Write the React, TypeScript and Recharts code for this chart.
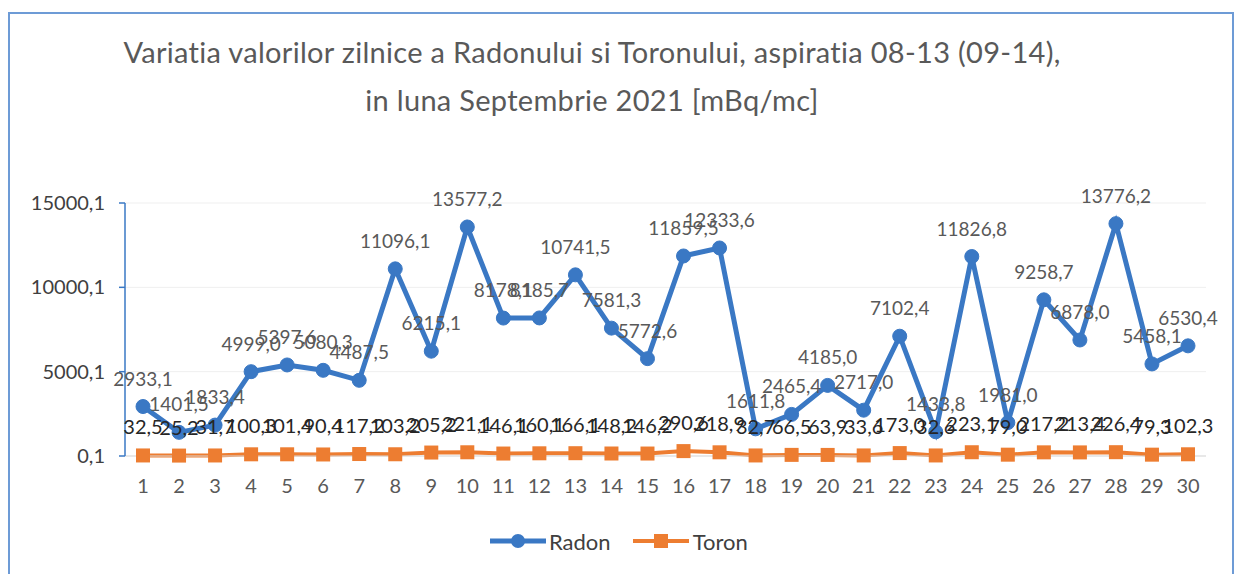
import { LineChart, Line, XAxis, YAxis, CartesianGrid, LabelList } from "recharts";

// zilele lunii (Septembrie 2021)
const days = ["1", "2", "3", "4", "5", "6", "7", "8", "9", "10", "11", "12", "13", "14", "15", "16", "17", "18", "19", "20", "21", "22", "23", "24", "25", "26", "27", "28", "29", "30"];

const radon = [2933.1, 1401.5, 1833.4, 4999.0, 5397.6, 5080.3, 4487.5, 11096.1, 6215.1, 13577.2, 8178.1, 8185.7, 10741.5, 7581.3, 5772.6, 11859.5, 12333.6, 1611.8, 2465.4, 4185.0, 2717.0, 7102.4, 1433.8, 11826.8, 1981.0, 9258.7, 6878.0, 13776.2, 5458.1, 6530.4];

const toron = [32.5, 25.2, 31.7, 100.3, 101.4, 90.4, 117.2, 103.2, 205.2, 221.1, 146.1, 160.1, 166.1, 148.2, 146.2, 290.6, 218.9, 32.7, 66.5, 63.9, 33.6, 173.0, 32.6, 223.1, 79.0, 217.2, 213.4, 226.4, 79.3, 102.3];

const yTicks = [0.1, 5000.1, 10000.1, 15000.1];

const BLUE = "#3a78c4";
const ORANGE = "#ed7d31";
const FONT = "Lato, 'Open Sans', sans-serif";

const fmt = (v: any) => Number(v).toFixed(1).replace(".", ",");

export default function App() {
  const data = days.map((d, i) => ({ day: d, Radon: radon[i], Toron: toron[i] }));

  return (
    <div style={{ position: "absolute", left: 0, top: 0, width: 1237, height: 574, background: "#fff", fontFamily: FONT, overflow: "hidden" }}>
      {/* chenarul graficului */}
      <div style={{ position: "absolute", left: 8, top: 12, width: 1222, height: 600, border: "2px solid #6d9bd6" }} />

      {/* titlu */}
      <div style={{ position: "absolute", left: 42, width: 1100, top: 28, textAlign: "center", color: "#595959", fontSize: 29, letterSpacing: 0.3, lineHeight: "48px" }}>
        Variatia valorilor zilnice a Radonului si Toronului, aspiratia 08-13 (09-14),
        <br />
        in luna Septembrie 2021 [mBq/mc]
      </div>

      <div style={{ position: "absolute", left: 0, top: 0 }}>
        <LineChart width={1237} height={574} data={data} margin={{ top: 203, right: 31, bottom: 0, left: 0 }}>
          <CartesianGrid vertical={false} stroke="#efefef" />
          <XAxis
            dataKey="day"
            height={118}
            padding={{ left: 18, right: 18 }}
            tickLine={false}
            tickSize={0}
            tickMargin={23}
            axisLine={{ stroke: "#d9d9d9" }}
            tick={{ fill: "#595959", fontSize: 20, fontFamily: FONT }}
            interval={0}
          />
          <YAxis
            width={125}
            domain={[0.1, 15000.1]}
            ticks={yTicks}
            tickFormatter={fmt}
            tickSize={6}
            tickMargin={14}
            axisLine={{ stroke: BLUE, strokeWidth: 1.5 }}
            tickLine={{ stroke: BLUE, strokeWidth: 1.5 }}
            tick={{ fill: "#404040", fontSize: 20, fontFamily: FONT }}
          />
          <Line
            dataKey="Toron"
            stroke={ORANGE}
            strokeWidth={4}
            isAnimationActive={false}
            dot={(p: any) => <rect key={p.index} x={p.cx - 7} y={p.cy - 7} width={14} height={14} fill={ORANGE} />}
          >
            <LabelList dataKey="Toron" position="top" offset={21} formatter={fmt} fill="#262626" fontSize={20} fontFamily={FONT} />
          </Line>
          <Line
            dataKey="Radon"
            stroke={BLUE}
            strokeWidth={5}
            isAnimationActive={false}
            dot={{ r: 7, fill: BLUE, stroke: BLUE, strokeWidth: 1 }}
          >
            <LabelList dataKey="Radon" position="top" offset={21} formatter={fmt} fill="#595959" fontSize={19} fontFamily={FONT} />
          </Line>
        </LineChart>
      </div>

      {/* legenda */}
      <div style={{ position: "absolute", top: 527, left: 490, display: "flex", alignItems: "center", fontSize: 22, color: "#404040" }}>
        <svg width={56} height={28}>
          <line x1={0} y1={14} x2={56} y2={14} stroke={BLUE} strokeWidth={5} />
          <circle cx={28} cy={14} r={7} fill={BLUE} />
        </svg>
        <span style={{ marginLeft: 3, marginRight: 22 }}>Radon</span>
        <svg width={56} height={28}>
          <line x1={0} y1={14} x2={56} y2={14} stroke={ORANGE} strokeWidth={4} />
          <rect x={21} y={7} width={14} height={14} fill={ORANGE} />
        </svg>
        <span style={{ marginLeft: 4 }}>Toron</span>
      </div>
    </div>
  );
}
